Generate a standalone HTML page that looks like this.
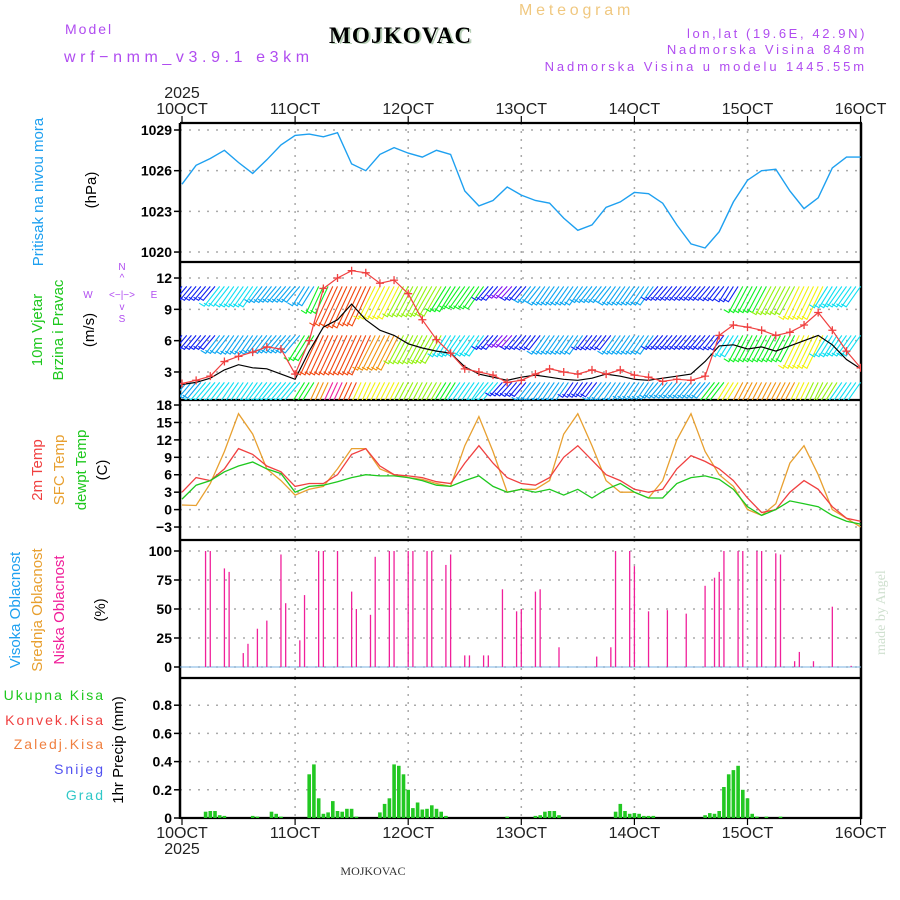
<!DOCTYPE html>
<html><head><meta charset="utf-8"><style>
html,body{margin:0;padding:0;background:#fff;}
svg{display:block;font-family:"Liberation Sans",sans-serif;}
</style></head><body>
<svg id="chart" width="900" height="900" viewBox="0 0 900 900" xmlns="http://www.w3.org/2000/svg">
<defs>
<clipPath id="cw"><rect x="180" y="262" width="681" height="138"/></clipPath>
<clipPath id="ct"><rect x="180" y="400" width="681" height="140"/></clipPath>
</defs>
<text x="65" y="34" font-size="14" fill="#b04cf0" letter-spacing="2">Model</text>
<text x="64" y="62" font-size="16" fill="#b04cf0" letter-spacing="4.6">wrf−nmm_v3.9.1 e3km</text>
<text x="331" y="44" font-size="23" font-weight="bold" font-family="Liberation Serif,serif" fill="#b8d0b8" letter-spacing="1.2">MOJKOVAC</text>
<text x="329" y="43" font-size="23" font-weight="bold" font-family="Liberation Serif,serif" fill="#000" letter-spacing="1.2">MOJKOVAC</text>
<text x="519" y="15" font-size="16" fill="#f0c880" letter-spacing="3.8">Meteogram</text>
<text x="867" y="38" font-size="13" fill="#b04cf0" text-anchor="end" letter-spacing="2.6">lon,lat (19.6E, 42.9N)</text>
<text x="867" y="54" font-size="13" fill="#b04cf0" text-anchor="end" letter-spacing="2.8">Nadmorska Visina 848m</text>
<text x="867" y="71" font-size="13" fill="#b04cf0" text-anchor="end" letter-spacing="2.9">Nadmorska Visina u modelu 1445.55m</text>
<text x="182" y="98" font-size="16" fill="#222" text-anchor="middle">2025</text>
<text x="182" y="838" font-size="16" fill="#222" text-anchor="middle">10OCT</text>
<text x="182" y="854" font-size="16" fill="#222" text-anchor="middle">2025</text>
<text x="373" y="875" font-size="12" fill="#333" font-family="Liberation Serif,serif" text-anchor="middle">MOJKOVAC</text>
<text transform="translate(885,655) rotate(-90)" font-size="14" fill="#cfe0cf" font-family="Liberation Serif,serif">made by Angel</text>

<g font-size="15">
<text transform="translate(43,192) rotate(-90)" text-anchor="middle" fill="#1ea0f0">Pritisak na nivou mora</text>
<text transform="translate(96,190) rotate(-90)" text-anchor="middle" fill="#000">(hPa)</text>
<text transform="translate(42,330) rotate(-90)" text-anchor="middle" fill="#1ec81e">10m Vjetar</text>
<text transform="translate(63,330) rotate(-90)" text-anchor="middle" fill="#1ec81e">Brzina i Pravac</text>
<text transform="translate(94,330) rotate(-90)" text-anchor="middle" fill="#000">(m/s)</text>
<text transform="translate(42,470) rotate(-90)" text-anchor="middle" fill="#f04040">2m Temp</text>
<text transform="translate(64,470) rotate(-90)" text-anchor="middle" fill="#e8a030">SFC Temp</text>
<text transform="translate(86,470) rotate(-90)" text-anchor="middle" fill="#1ec81e">dewpt Temp</text>
<text transform="translate(107,470) rotate(-90)" text-anchor="middle" fill="#000">(C)</text>
<text transform="translate(20,610) rotate(-90)" text-anchor="middle" fill="#1ea0f0">Visoka Oblacnost</text>
<text transform="translate(42,610) rotate(-90)" text-anchor="middle" fill="#e8a030">Srednja Oblacnost</text>
<text transform="translate(64,610) rotate(-90)" text-anchor="middle" fill="#f0209a">Niska Oblacnost</text>
<text transform="translate(105,610) rotate(-90)" text-anchor="middle" fill="#000">(%)</text>
<text transform="translate(123,750) rotate(-90)" text-anchor="middle" fill="#000">1hr Precip (mm)</text>
</g>
<g font-size="14" text-anchor="end" letter-spacing="2">
<text x="105" y="700" fill="#1ec81e">Ukupna  Kisa</text>
<text x="105" y="725" fill="#f04040">Konvek.Kisa</text>
<text x="105" y="749" fill="#f08040">Zaledj.Kisa</text>
<text x="105" y="774" fill="#5050f0">Snijeg</text>
<text x="105" y="800" fill="#30c8c8">Grad</text>
</g>
<g fill="#b04cf0" font-size="10">
<text x="122" y="270" text-anchor="middle">N</text>
<text x="122" y="281" text-anchor="middle">^</text>
<text x="88" y="298" text-anchor="middle">W</text>
<text x="122" y="298" text-anchor="middle">&lt;−|−&gt;</text>
<text x="154" y="298" text-anchor="middle">E</text>
<text x="122" y="310" text-anchor="middle">v</text>
<text x="122" y="322" text-anchor="middle">S</text>
</g>
<g id="axes"></g>
<g id="marks"></g>
</svg>
<script>
const dayLabels = ["10OCT","11OCT","12OCT","13OCT","14OCT","15OCT","16OCT"];
const pressure = [1025.0,1026.4,1026.9,1027.5,1026.6,1025.8,1026.8,1027.9,1028.6,1028.7,1028.5,1028.8,1026.5,1026.0,1027.2,1027.7,1027.3,1027.0,1027.5,1027.2,1024.5,1023.4,1023.8,1024.8,1024.2,1023.8,1023.6,1022.5,1021.6,1022.0,1023.3,1023.7,1024.4,1024.3,1023.6,1022.0,1020.6,1020.3,1021.5,1023.7,1025.3,1026.0,1026.1,1024.5,1023.2,1024.0,1026.2,1027.0,1027.0];
const pressTicks = [1020,1023,1026,1029];
const wind10 = [1.9,2.2,2.6,4,4.5,4.9,5.4,5.2,2.8,6,11,12,12.7,12.5,11.5,11.8,10.5,8,6.1,4.8,3.3,3,2.7,2,2.2,2.8,3.3,3,2.8,3.2,2.8,3.2,2.7,2.5,2.1,2.3,2.2,2.6,6.5,7.5,7.3,7,6.5,6.8,7.5,8.7,7,5,3.4];
const windBlack = [1.8,2,2.4,3.2,3.7,3.4,3.3,2.8,2.3,5,7.3,8,9.5,8,7,6.5,5.7,5.3,5,4.8,3.5,2.8,2.5,2.2,2.5,2.7,2.5,2.3,2.2,2.4,2.8,2.6,2.3,2.2,2.4,2.6,2.8,4,5.5,5.6,5.2,5.4,5,5.5,6,6.5,5.6,4.2,3.3];
const barbTop = [4,4,4,7,7,7,5,5,5,6,9,15,16,15,12,12,11,11,11,9,8,8,4,3,4,5,6,6,6,5,5,6,6,6,4,4,4,4,4,4,9,9,10,10,12,12,7,7,7];
const barbMid = [4,4,4,6,6,6,6,6,6,9,15,15,15,15,13,13,10,10,10,7,7,7,4,3,4,4,6,6,6,4,4,6,6,6,4,4,4,4,4,7,9,9,9,9,12,12,7,7,7];
const barbBot = [5,5,7,7,7,7,7,7,7,9,14,19,15,12,12,12,11,11,11,9,7,7,7,4,4,6,6,6,4,4,6,6,5,5,5,5,5,5,9,12,13,13,13,14,12,10,10,7,7];
const barbLevels = [11.2,6.5,2.0];
const windDir = [220,220,220,218,215,215,218,220,220,212,205,205,205,205,207,207,208,208,210,212,215,215,220,222,220,218,215,215,215,218,218,215,215,215,220,220,220,220,218,212,208,208,208,208,206,206,212,215,215];
const windTicks = [3,6,9,12];
const t2m = [3,5.5,5,7,10.5,9.5,7.5,6.5,4,4.5,4.5,6,9.5,10.5,7.5,6,5.8,5.5,4.8,4.5,8,11,8,5.5,4.5,4.2,5.5,9,11,8.5,6,5,3.5,3,3.5,7,9.3,8.3,7,5,2,-0.5,0,3,5,3.5,0.5,-1.5,-2];
const tsfc = [0.8,0.7,4.5,10,16.5,13,7,5,2.5,3.5,4,7,10.5,10.5,7,6,5.5,5.2,4.5,4,11,16,10,3,3.5,3.5,5,13,16.5,11,5,3,3,2,5,12,16.5,10,6,4,0,-1,1,8,11,6,0,-1.5,-3];
const tdew = [1.8,4.2,5,6.5,7.5,8.2,7,6.2,3,4,4.2,4.8,5.5,6,5.8,5.8,5.5,5,4.2,4,5,5.8,4,3,3.5,3,3.5,2.5,3.5,2,3.5,4.5,3,2,2,4.5,5.5,5.8,5.2,3.5,0.5,-1,0,1.5,1,0.5,-1,-2,-2.5];
const tempTicks = [-3,0,3,6,9,12,15,18];
const cloudHours = [5,6,9,10,13,14,16,18,21,22,25,26,29,30,33,36,37,40,41,44,45,48,49,52,53,56,57,60,61,64,65,68,71,72,75,76,80,88,91,92,95,96,99,103,107,111,113,114,115,118,119,122,123,126,127,130,131,134,138,142];
const cloudLow = [100,100,85,82,12,20,33,40,97,55,23,62,100,100,100,65,50,45,95,100,100,100,100,100,100,88,97,10,10,10,10,67,48,50,65,67,17,9,17,100,100,87,48,49,46,70,77,82,100,100,100,100,100,98,97,5,13,5,52,1];
const cloudTicks = [0,25,50,75,100];
const precipHours = [5,6,7,8,9,15,16,19,20,21,27,28,29,30,31,32,33,34,35,36,37,42,43,44,45,46,47,48,49,50,51,52,53,54,55,56,69,75,76,77,78,79,80,92,93,94,95,96,97,98,99,100,111,112,113,114,115,116,117,118,119,120,121,122,124,127];
const precipVals = [0.045,0.05,0.05,0.02,0.015,0.015,0.01,0.045,0.03,0.01,0.31,0.38,0.14,0.03,0.04,0.12,0.05,0.045,0.065,0.065,0.01,0.04,0.1,0.14,0.38,0.37,0.31,0.2,0.07,0.11,0.06,0.065,0.09,0.065,0.045,0.015,0.01,0.015,0.02,0.045,0.05,0.05,0.02,0.045,0.1,0.05,0.03,0.035,0.03,0.015,0.015,0.015,0.02,0.035,0.03,0.05,0.22,0.31,0.34,0.37,0.2,0.14,0.03,0.01,0.01,0.01];
const precipTicks = [0,0.2,0.4,0.6,0.8];

const NS="http://www.w3.org/2000/svg";
const X0=182, DAYW=113.1, XL=180, XR=861;
const xh = h => X0 + h*DAYW/24;
const xi = i => xh(i*3);
const yP = v => 130 + (1029 - v)*13.56;
const yW = v => 403.3 - v*10.44;
const yT = v => 509.6 - v*5.81;
const yC = v => 667 - v*1.16;
const yR = v => 818 - v*141;
const axes=document.getElementById('axes'), marks=document.getElementById('marks');
function mk(tag, attrs, parent){const e=document.createElementNS(NS,tag);for(const k in attrs)e.setAttribute(k,attrs[k]);(parent||marks).appendChild(e);return e;}

const panels=[
 {top:123,bot:262,ticks:pressTicks,y:yP,fmt:v=>v,name:'pressure'},
 {top:262,bot:400,ticks:windTicks,y:yW,fmt:v=>v,name:'wind'},
 {top:400,bot:540,ticks:tempTicks,y:yT,fmt:v=>(v<0?'−'+(-v):v),name:'temperature'},
 {top:540,bot:678,ticks:cloudTicks,y:yC,fmt:v=>v,name:'cloud'},
 {top:678,bot:818,ticks:precipTicks,y:yR,fmt:v=>v,name:'precip'}];
panels.forEach(p=>{
  const g=mk('g',{},axes);
  
  
  for(let d=1;d<6;d++){const l=mk('line',{x1:xh(d*24),x2:xh(d*24),y1:p.top,y2:p.bot,stroke:'#aaa','stroke-width':1.5,'stroke-dasharray':'2,6'},g);
    
    }
  p.ticks.forEach(t=>{
    const y=p.y(t);
    if(y>p.top+3&&y<p.bot-3){const l=mk('line',{x1:XL,x2:XR,y1:y,y2:y,stroke:'#aaa','stroke-width':1.5,'stroke-dasharray':'2,7'},g);
      
      }
    mk('line',{x1:XL-6,x2:XL,y1:y,y2:y,stroke:'#000','stroke-width':1.5},g);
    const tx=mk('text',{x:XL-8,y:y+5,'font-size':14,'text-anchor':'end',fill:'#000','font-weight':'bold'},g);
    tx.textContent=p.fmt(t);
    
    
  });
});
const fr=mk('g',{},axes);


[123,262,400,540,678,818].forEach(y=>mk('line',{x1:XL,x2:XR+1,y1:y,y2:y,stroke:'#000','stroke-width':2.2},fr));
mk('line',{x1:XL,x2:XL,y1:123,y2:819,stroke:'#000','stroke-width':2.5},fr);
mk('line',{x1:XR,x2:XR,y1:123,y2:819,stroke:'#000','stroke-width':2.5},fr);
dayLabels.forEach((d,i)=>{
  const x=xh(i*24);
  mk('line',{x1:x,x2:x,y1:116,y2:123,stroke:'#000','stroke-width':1.2},fr);
  mk('line',{x1:x,x2:x,y1:818,y2:825,stroke:'#000','stroke-width':1.2},fr);
  const t=mk('text',{x:x,y:114,'font-size':16,'text-anchor':'middle',fill:'#222'},axes);
  t.textContent=d;
  
  
  if(i>0){const b=mk('text',{x:x,y:838,'font-size':16,'text-anchor':'middle',fill:'#222'},axes);
    b.textContent=d;
    
    }
});

function line(arr, yf, color, name, w, clip){
  const pts=arr.map((v,i)=>xi(i).toFixed(1)+','+yf(v).toFixed(1)).join(' ');
  const p=mk('polyline',{points:pts,fill:'none',stroke:color,'stroke-width':w||1.3});
  if(clip)p.setAttribute('clip-path',clip);
  
  
  return p;
}
line(pressure,yP,'#1ea0f0','pressure-line',1.4);
function spdColor(s){
  if(s>=18) return '#f0209a';
  let h = s<=3?270: s<=4?235: s<=6?200: s<=7?185: s<=9?125: s<=11?85: s<=12?60: s<=14?35: 15;
  return 'hsl('+h+',90%,50%)';
}
[barbTop,barbMid,barbBot].forEach((row,r)=>{
  const y0=yW(barbLevels[r]);
  const g=mk('g',{'clip-path':'url(#cw)'});
  
  
  row.forEach((s,i)=>{
    for(let k=-1;k<=1;k++){
      const h=i*3+k; if(h<0||h>144) continue;
      const x=xh(h), a=windDir[i]*Math.PI/180;
      const L=9+s*2.3;
      const x2=x+L*Math.sin(a), y2=y0-L*Math.cos(a);
      const c=spdColor(s);
      const b=mk('path',{d:`M${x.toFixed(1)},${y0.toFixed(1)}L${x2.toFixed(1)},${y2.toFixed(1)}l-5,-3`,stroke:c,'stroke-width':1.1,fill:'none'},g);
      
      
    }
  });
});
line(windBlack,yW,'#000','wind-speed-black-line',1.2,'url(#cw)');
line(wind10,yW,'#f04040','wind-speed-10m-line',1.2,'url(#cw)');
wind10.forEach((v,i)=>{
  const x=xi(i),y=yW(v);
  const m=mk('path',{d:`M${x-4},${y}h8M${x},${y-4}v8`,stroke:'#f04040','stroke-width':1.3,'clip-path':'url(#cw)'});
  
  
});
line(tsfc,yT,'#e8a030','sfc-temp-line',1.3,'url(#ct)');
line(t2m,yT,'#f04040','temp-2m-line',1.3,'url(#ct)');
line(tdew,yT,'#1ec81e','dewpoint-line',1.3,'url(#ct)');
const cb=mk('line',{x1:XL,x2:XR,y1:yC(0),y2:yC(0),stroke:'#7ab0e0','stroke-width':1});


cloudHours.forEach((h,i)=>{
  const x=xh(h);
  const b=mk('line',{x1:x,x2:x,y1:yC(0),y2:yC(cloudLow[i]),stroke:'#f0209a','stroke-width':1.3});
  
  
});
precipHours.forEach((h,i)=>{
  const x=xh(h), y=yR(precipVals[i]);
  const b=mk('rect',{x:(x-1.8).toFixed(1),y:y.toFixed(1),width:3.6,height:(818-y).toFixed(1),fill:'#22c822'});
  
  
});
</script>
</body></html>
